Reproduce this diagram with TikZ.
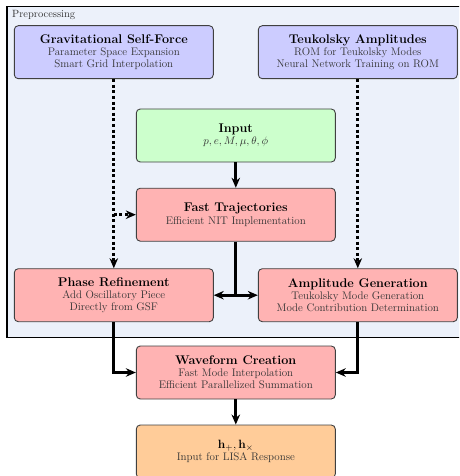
\documentclass[tikz,border=0pt]{standalone}
\usetikzlibrary{arrows.meta}
\definecolor{prebg}{RGB}{236,241,250}
\definecolor{boxblue}{RGB}{204,204,255}
\definecolor{boxgreen}{RGB}{204,255,204}
\definecolor{boxred}{RGB}{255,179,179}
\definecolor{boxorange}{RGB}{255,204,153}
\newcommand{\subline}[1]{\textcolor{black!80}{#1}}
\newcommand{\titlefont}{\fontsize{12.6}{13}\selectfont\bfseries}
\tikzset{
  stage/.style={draw=black!75, line width=0.9pt, rounded corners=4pt,
    minimum width=199pt, minimum height=53pt, align=center, inner sep=2pt,
    font=\fontsize{11}{12.2}\selectfont},
  solidarrow/.style={line width=3pt, -{Stealth[length=10pt,width=8.5pt]}},
  solidline/.style={line width=3pt},
  dotarrow/.style={line width=3pt, dash pattern=on 3pt off 2.6pt, -{Stealth[length=10pt,width=8.5pt]}},
}
\begin{document}
\begin{tikzpicture}[x=1pt,y=-1pt]
\useasboundingbox (0,0) rectangle (459,476);
\clip (0,0) rectangle (459,476);
\draw[fill=prebg, line width=1.4pt] (7,6.5) rectangle (478,337.5);
\node[anchor=north west, inner sep=0pt, text=black!80, font=\fontsize{10.5}{12}\selectfont] (prelabel) at (12,10) {Preprocessing};

\node[stage, fill=boxblue] (gsf) at (113.8,52.2) {{\titlefont Gravitational Self-Force}\\ \subline{Parameter Space Expansion}\\ \subline{Smart Grid Interpolation}};
\node[stage, fill=boxblue] (teuk) at (357.8,52.2) {{\titlefont Teukolsky Amplitudes}\\ \subline{ROM for Teukolsky Modes}\\ \subline{Neural Network Training on ROM}};
\node[stage, fill=boxgreen] (input) at (235.8,135.5) {{\titlefont Input}\\ \subline{$p,e,M,\mu,\theta,\phi$}};
\node[stage, fill=boxred] (fast) at (235.8,214.7) {{\titlefont Fast Trajectories}\\ \subline{Efficient NIT Implementation}};
\node[stage, fill=boxred] (phase) at (113.8,295.2) {{\titlefont Phase Refinement}\\ \subline{Add Oscillatory Piece}\\ \subline{Directly from GSF}};
\node[stage, fill=boxred] (amp) at (357.8,295.2) {{\titlefont Amplitude Generation}\\ \subline{Teukolsky Mode Generation}\\ \subline{Mode Contribution Determination}};
\node[stage, fill=boxred] (wave) at (235.8,372.5) {{\titlefont Waveform Creation}\\ \subline{Fast Mode Interpolation}\\ \subline{Efficient Parallelized Summation}};
\node[stage, fill=boxorange] (hout) at (235.8,451.5) {{\titlefont $\mathbf{h}_+,\mathbf{h}_\times$}\\ \subline{Input for LISA Response}};

\draw[dotarrow] (gsf.south) -- (phase.north);
\draw[dotarrow] (gsf.south |- fast.west) -- (fast.west);
\draw[dotarrow] (teuk.south) -- (amp.north);
\draw[solidarrow] (input) -- (fast);
\coordinate (split) at (fast.south |- phase.east);
\draw[solidline] (fast.south) -- (split);
\draw[solidarrow] (split) -- (phase.east);
\draw[solidarrow] (split) -- (amp.west);
\draw[solidarrow] (phase.south) |- (wave.west);
\draw[solidarrow] (amp.south) |- (wave.east);
\draw[solidarrow] (wave) -- (hout);
\end{tikzpicture}
\end{document}
